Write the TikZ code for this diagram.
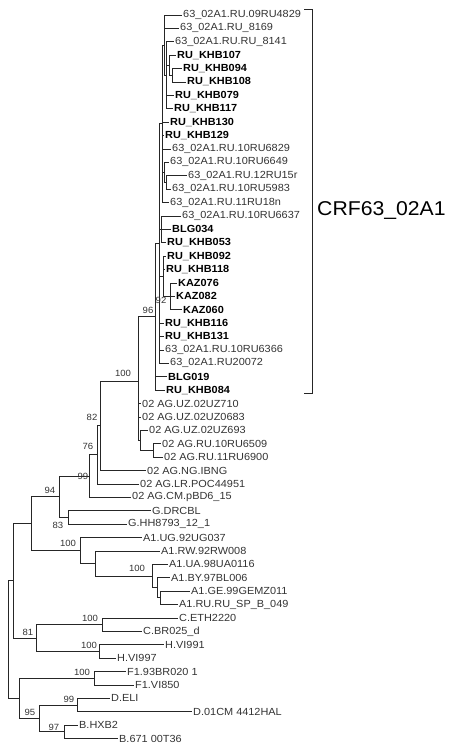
\documentclass[tikz,border=0pt]{standalone}
\usepackage{fontspec}
\setmainfont{Liberation Sans}[FakeStretch=1.06]
\begin{document}
\begin{tikzpicture}[x=1pt,y=-1pt,
  br/.style={line width=0.9pt, draw=black!85},
  lf/.style={anchor=west, inner sep=1pt, font=\fontsize{10.3}{12}\selectfont, text=black!80},
  lfb/.style={anchor=west, inner sep=1pt, font=\fontsize{10.3}{12}\selectfont\bfseries, text=black},
  bs/.style={inner sep=0pt, font=\fontsize{9}{10}\selectfont, text=black!80},
  crf/.style={anchor=west, inner sep=0pt, font=\fontsize{20}{22}\selectfont, text=black}]
\useasboundingbox (0,0) rectangle (450,749);
% ---------- leaves ----------
\node[lf]  (l1)  at (182,15.0)  {63\_02A1.RU.09RU4829};
\node[lf]  (l2)  at (179,28.4)  {63\_02A1.RU\_8169};
\node[lf]  (l3)  at (174,41.8)  {63\_02A1.RU.RU\_8141};
\node[lfb] (l4)  at (176,55.2)  {RU\_KHB107};
\node[lfb] (l5)  at (182,68.6)  {RU\_KHB094};
\node[lfb] (l6)  at (186,82.0)  {RU\_KHB108};
\node[lfb] (l7)  at (174,95.4)  {RU\_KHB079};
\node[lfb] (l8)  at (173,108.8) {RU\_KHB117};
\node[lfb] (l9)  at (169,122.2) {RU\_KHB130};
\node[lfb] (l10) at (164,135.6) {RU\_KHB129};
\node[lf]  (l11) at (171,149.0) {63\_02A1.RU.10RU6829};
\node[lf]  (l12) at (169,162.4) {63\_02A1.RU.10RU6649};
\node[lf]  (l13) at (187,175.8) {63\_02A1.RU.12RU15r};
\node[lf]  (l14) at (171,189.2) {63\_02A1.RU.10RU5983};
\node[lf]  (l15) at (169,202.6) {63\_02A1.RU.11RU18n};
\node[lf]  (l16) at (181,216.0) {63\_02A1.RU.10RU6637};
\node[lfb] (l17) at (171,229.4) {BLG034};
\node[lfb] (l18) at (166,242.8) {RU\_KHB053};
\node[lfb] (l19) at (166,256.2) {RU\_KHB092};
\node[lfb] (l20) at (165,269.6) {RU\_KHB118};
\node[lfb] (l21) at (177,283.0) {KAZ076};
\node[lfb] (l22) at (175,296.4) {KAZ082};
\node[lfb] (l23) at (182,309.8) {KAZ060};
\node[lfb] (l24) at (164,323.2) {RU\_KHB116};
\node[lfb] (l25) at (164,336.6) {RU\_KHB131};
\node[lf]  (l26) at (164,350.0) {63\_02A1.RU.10RU6366};
\node[lf]  (l27) at (169,363.4) {63\_02A1.RU20072};
\node[lfb] (l28) at (167,376.8) {BLG019};
\node[lfb] (l29) at (165,390.2) {RU\_KHB084};
\node[lf]  (l30) at (141,403.6) {02 AG.UZ.02UZ710};
\node[lf]  (l31) at (141,417.0) {02 AG.UZ.02UZ0683};
\node[lf]  (l32) at (148,430.4) {02 AG.UZ.02UZ693};
\node[lf]  (l33) at (161,443.8) {02 AG.RU.10RU6509};
\node[lf]  (l34) at (163,457.2) {02 AG.RU.11RU6900};
\node[lf]  (l35) at (146,470.6) {02 AG.NG.IBNG};
\node[lf]  (l36) at (139,484.0) {02 AG.LR.POC44951};
\node[lf]  (l37) at (131,497.4) {02 AG.CM.pBD6\_15};
\node[lf]  (l38) at (151,510.8) {G.DRCBL};
\node[lf]  (l39) at (127,524.2) {G.HH8793\_12\_1};
\node[lf]  (l40) at (142,537.6) {A1.UG.92UG037};
\node[lf]  (l41) at (160,551.0) {A1.RW.92RW008};
\node[lf]  (l42) at (168,564.4) {A1.UA.98UA0116};
\node[lf]  (l43) at (170,577.8) {A1.BY.97BL006};
\node[lf]  (l44) at (190,591.2) {A1.GE.99GEMZ011};
\node[lf]  (l45) at (178,604.6) {A1.RU.RU\_SP\_B\_049};
\node[lf]  (l46) at (178,618.0) {C.ETH2220};
\node[lf]  (l47) at (142,631.4) {C.BR025\_d};
\node[lf]  (l48) at (164,644.8) {H.VI991};
\node[lf]  (l49) at (116,658.2) {H.VI997};
\node[lf]  (l50) at (126,671.6) {F1.93BR020 1};
\node[lf]  (l51) at (134,685.0) {F1.VI850};
\node[lf]  (l52) at (110,698.4) {D.ELI};
\node[lf]  (l53) at (192,711.8) {D.01CM 4412HAL};
\node[lf]  (l54) at (78,725.2)  {B.HXB2};
\node[lf]  (l55) at (118,738.6) {B.671 00T36};
% ---------- internal nodes ----------
\coordinate (na)   at (172,75.3);
\coordinate (nb)   at (169,65.25);
\coordinate (nc)   at (166,75.3);
\coordinate (nd)   at (164,45.15);
\coordinate (nf)   at (166,182.5);
\coordinate (ng)   at (164,172.45);
\coordinate (ne)   at (162,123.9);
\coordinate (nD)   at (161,229.4);
\coordinate (nK)   at (170,296.4);
\coordinate (n92)  at (163,276.3);
\coordinate (ntop) at (159.5,243.65);
\coordinate (n96)  at (155,316.9);
\coordinate (nRU)  at (153,450.5);
\coordinate (nx)   at (140.5,440.45);
\coordinate (nAG)  at (138.8,422.0);
\coordinate (n100) at (138,381.0);
\coordinate (n82)  at (100,425.8);
\coordinate (n76)  at (97,454.9);
\coordinate (n99)  at (89,476.2);
\coordinate (nG)   at (68,517.5);
\coordinate (n94)  at (59,496.8);
\coordinate (ia4)  at (160,597.9);
\coordinate (ia3)  at (157,587.85);
\coordinate (ia2)  at (152,576.1);
\coordinate (ia1)  at (95,563.55);
\coordinate (nA1)  at (80,550.6);
\coordinate (n31)  at (31,523.7);
\coordinate (nC)   at (102,624.7);
\coordinate (nH)   at (99,651.5);
\coordinate (n81)  at (36,638.1);
\coordinate (n13)  at (13,580.9);
\coordinate (nF)   at (94,678.3);
\coordinate (nD2)  at (77,705.1);
\coordinate (nB)   at (64,731.9);
\coordinate (n95)  at (39,718.5);
\coordinate (nFDB) at (19,698.4);
\coordinate (root) at (8,639.65);
% ---------- branches ----------
\draw[br] (na) |- (l5.west);  \draw[br] (na) |- (l6.west);
\draw[br] (nb) |- (l4.west);  \draw[br] (nb) |- (na);
\draw[br] (nc) |- (l3.west);  \draw[br] (nc) |- (nb);
\draw[br] (nc) |- (l7.west);  \draw[br] (nc) |- (l8.west);
\draw[br] (nd) |- (l1.west);  \draw[br] (nd) |- (l2.west);  \draw[br] (nd) |- (nc);
\draw[br] (nf) |- (l13.west); \draw[br] (nf) |- (l14.west);
\draw[br] (ng) |- (l12.west); \draw[br] (ng) |- (nf);
\draw[br] (ne) |- (nd);       \draw[br] (ne) |- (l9.west);
\draw[br] (ne) |- (l10.west); \draw[br] (ne) |- (l11.west);
\draw[br] (ne) |- (ng);       \draw[br] (ne) |- (l15.west);
\draw[br] (nD) |- (l16.west); \draw[br] (nD) |- (l17.west); \draw[br] (nD) |- (l18.west);
\draw[br] (nK) |- (l21.west); \draw[br] (nK) |- (l22.west); \draw[br] (nK) |- (l23.west);
\draw[br] (n92) |- (l19.west); \draw[br] (n92) |- (l20.west); \draw[br] (n92) |- (nK);
\draw[br] (ntop) |- (ne);  \draw[br] (ntop) |- (nD);  \draw[br] (ntop) |- (n92);
\draw[br] (ntop) |- (l24.west); \draw[br] (ntop) |- (l25.west);
\draw[br] (ntop) |- (l26.west); \draw[br] (ntop) |- (l27.west);
\draw[br] (n96) |- (ntop); \draw[br] (n96) |- (l28.west); \draw[br] (n96) |- (l29.west);
\draw[br] (nRU) |- (l33.west); \draw[br] (nRU) |- (l34.west);
\draw[br] (nx) |- (l32.west);  \draw[br] (nx) |- (nRU);
\draw[br] (nAG) |- (l30.west); \draw[br] (nAG) |- (l31.west); \draw[br] (nAG) |- (nx);
\draw[br] (n100) |- (n96); \draw[br] (n100) |- (nAG);
\draw[br] (n82) |- (n100); \draw[br] (n82) |- (l35.west);
\draw[br] (n76) |- (n82);  \draw[br] (n76) |- (l36.west);
\draw[br] (n99) |- (n76);  \draw[br] (n99) |- (l37.west);
\draw[br] (nG) |- (l38.west); \draw[br] (nG) |- (l39.west);
\draw[br] (n94) |- (n99);  \draw[br] (n94) |- (nG);
\draw[br] (ia4) |- (l44.west); \draw[br] (ia4) |- (l45.west);
\draw[br] (ia3) |- (l43.west); \draw[br] (ia3) |- (ia4);
\draw[br] (ia2) |- (l42.west); \draw[br] (ia2) |- (ia3);
\draw[br] (ia1) |- (l41.west); \draw[br] (ia1) |- (ia2);
\draw[br] (nA1) |- (l40.west); \draw[br] (nA1) |- (ia1);
\draw[br] (n31) |- (n94);  \draw[br] (n31) |- (nA1);
\draw[br] (nC) |- (l46.west); \draw[br] (nC) |- (l47.west);
\draw[br] (nH) |- (l48.west); \draw[br] (nH) |- (l49.west);
\draw[br] (n81) |- (nC);   \draw[br] (n81) |- (nH);
\draw[br] (n13) |- (n31);  \draw[br] (n13) |- (n81);
\draw[br] (nF) |- (l50.west); \draw[br] (nF) |- (l51.west);
\draw[br] (nD2) |- (l52.west); \draw[br] (nD2) |- (l53.west);
\draw[br] (nB) |- (l54.west); \draw[br] (nB) |- (l55.west);
\draw[br] (n95) |- (nD2);  \draw[br] (n95) |- (nB);
\draw[br] (nFDB) |- (nF);  \draw[br] (nFDB) |- (n95);
\draw[br] (root) |- (n13); \draw[br] (root) |- (nFDB);
% ---------- bootstrap values ----------
\node[bs] (b96)  at (148,310) {96};
\node[bs] (b92)  at (161,300) {92};
\node[bs] (b100a) at (123,373) {100};
\node[bs] (b82)  at (92,417) {82};
\node[bs] (b76)  at (88,446) {76};
\node[bs] (b99)  at (83,476) {99};
\node[bs] (b94)  at (50,490) {94};
\node[bs] (b83)  at (58,525) {83};
\node[bs] (b100b) at (68,543) {100};
\node[bs] (b100c) at (137,568) {100};
\node[bs] (b100d) at (90,618) {100};
\node[bs] (b81)  at (28,632) {81};
\node[bs] (b100e) at (89,645) {100};
\node[bs] (b100f) at (82,672) {100};
\node[bs] (b99b) at (69,699) {99};
\node[bs] (b95)  at (30,712) {95};
\node[bs] (b97)  at (54,727) {97};
% ---------- bracket ----------
\coordinate (k1) at (304,9);
\coordinate (k2) at (312,9);
\coordinate (k3) at (312,393);
\coordinate (k4) at (304,393);
\draw[br] (k1) -- (k2) -- (k3) -- (k4);
\node[crf] (crf) at (317,211) {CRF63\_02A1};
\end{tikzpicture}
\end{document}
